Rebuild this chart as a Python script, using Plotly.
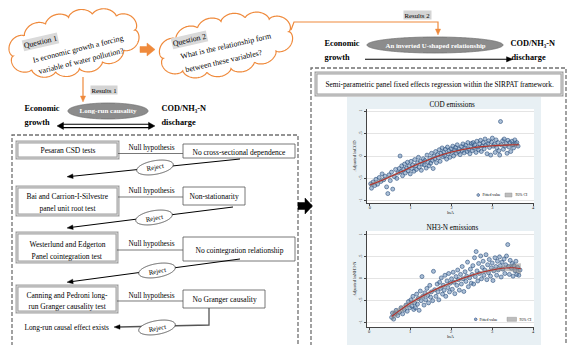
import numpy as np
import plotly.graph_objects as go

# ---------------- data ----------------
cod_x = [0.02,0.04,0.08,0.12,0.15,0.19,0.23,0.27,0.30,0.34,0.37,0.41,0.44,0.47,0.50,0.53,0.56,0.60,0.63,0.66,0.69,0.72,
         0.74,
         0.76,0.78,0.80,0.83,0.85,0.87,0.90,0.92,0.94,0.96,0.99,1.01,1.03,1.05,1.08,1.10,1.12,1.14,1.17,1.19,1.21,1.24,1.26,1.28,1.31,1.33,1.35,1.38,1.40,1.42,1.45,1.47,1.49,
         1.51,1.53,1.55,1.57,1.59,1.61,1.63,1.66,1.68,1.70,1.72,1.74,1.77,1.79,1.81,1.83,1.85,1.88,1.90,1.92,1.94,1.96,1.99,2.01,2.03,2.05,2.08,2.10,2.12,2.14,2.17,2.19,2.21,2.24,2.26,2.28,2.31,2.33,2.35,2.38,2.40,2.42,2.45,2.47,2.49,
         2.51,2.53,2.55,2.57,2.60,2.62,2.64,2.66,2.69,2.71,2.73,2.75,2.78,2.80,2.82,2.84,2.87,2.89,2.91,2.93,2.96,2.98,3.00,3.02,3.05,3.07,3.09,3.11,3.14,3.16,3.18,3.20,3.22,3.25,3.27,3.29,3.31,3.34,3.36,3.38,3.41,3.43,3.45,3.48,3.50,3.52,3.55,3.57,3.60,3.63]
cod_y = [-0.62,-0.72,-0.58,-0.66,-0.52,-0.63,-0.48,-0.57,-0.40,-0.53,-0.45,-0.69,-0.84,-0.42,-0.55,-0.36,-0.74,-0.46,-0.30,-0.50,-0.38,-0.28,
         0.00,
         -0.35,-0.22,-0.44,-0.30,-0.18,-0.38,-0.27,-0.14,-0.33,-0.22,-0.40,-0.12,-0.28,-0.20,-0.34,-0.08,-0.22,-0.30,-0.15,-0.03,-0.25,-0.12,-0.32,-0.18,-0.06,-0.20,-0.10,-0.27,0.02,-0.14,-0.22,-0.05,-0.16,
         0.06,-0.10,-0.28,0.00,-0.06,0.10,-0.15,0.03,-0.04,0.14,-0.12,0.06,0.18,-0.02,0.09,0.01,0.15,-0.07,0.20,0.05,0.12,-0.03,0.16,0.08,0.22,0.00,0.13,0.19,0.06,0.25,0.10,0.16,0.03,0.21,0.12,0.27,0.07,0.18,0.24,0.10,0.30,0.15,0.05,0.22,0.28,
         0.12,0.30,0.18,0.25,0.08,0.33,0.20,0.14,0.27,0.35,0.10,0.22,0.30,0.16,0.38,0.24,0.05,0.28,0.34,0.19,0.02,0.31,0.40,0.22,0.26,0.08,0.36,0.18,0.30,0.12,0.02,0.77,0.25,0.34,0.15,0.38,0.22,0.28,0.06,0.35,0.20,0.30,0.10,0.33,0.25,0.18,0.36,0.27,0.30,0.22]
cod_fit_x = [0.0,0.25,0.5,0.75,1.0,1.25,1.5,1.75,2.0,2.25,2.5,2.75,3.0,3.25,3.5,3.65]
cod_fit_y = [-0.65,-0.56,-0.46,-0.36,-0.25,-0.15,-0.06,0.02,0.09,0.14,0.18,0.21,0.23,0.24,0.25,0.25]
cod_ci = [0.04,0.03,0.025,0.02,0.02,0.015,0.015,0.015,0.015,0.015,0.015,0.015,0.02,0.02,0.025,0.03]

nh3_x = [0.55,0.57,0.60,0.63,0.66,0.70,0.74,0.78,0.82,0.86,0.90,0.93,0.96,0.99,
         1.02,1.04,1.07,1.09,1.11,1.13,1.16,1.18,1.20,1.22,1.25,1.27,1.29,1.31,1.34,1.36,1.38,1.41,1.43,1.45,1.48,1.50,1.52,1.55,1.57,1.60,1.63,1.66,
         1.68,1.70,1.72,1.74,1.76,1.79,1.81,1.83,1.85,1.87,1.90,1.92,1.94,1.96,1.98,2.01,2.03,2.05,2.07,2.09,2.12,2.14,2.16,2.18,2.20,2.23,2.25,2.27,2.29,2.31,2.34,2.36,2.38,2.40,2.42,2.45,2.47,2.49,
         2.51,2.53,2.55,2.57,2.59,2.61,2.63,2.65,2.67,2.69,2.72,2.74,2.76,2.78,2.80,2.82,2.85,2.87,2.89,2.91,2.93,2.96,2.98,3.00,3.02,3.04,3.07,3.09,3.11,3.13,3.15,3.18,3.20,3.22,3.24,3.26,3.29,3.31,3.33,3.35,3.38,3.40,3.42,3.44,3.47,3.49,3.51,3.53,3.56,3.58,3.60,3.62,3.65,3.68]
nh3_y = [-0.88,-0.78,-0.92,-0.80,-0.72,-0.84,-0.76,-0.66,-0.80,-0.70,-0.60,-0.74,-0.52,-0.66,
         -0.48,-0.62,-0.40,-0.70,-0.55,-0.66,-0.35,-0.58,-0.45,-0.72,-0.28,-0.50,0.05,-0.40,-0.60,-0.32,-0.48,-0.22,-0.38,-0.55,-0.15,-0.42,-0.30,-0.50,0.17,-0.25,-0.40,-0.12,
         -0.30,-0.48,-0.08,-0.22,0.02,-0.35,-0.15,-0.26,0.08,-0.40,-0.05,-0.20,0.12,-0.30,-0.10,0.00,-0.24,0.15,-0.08,-0.34,0.05,-0.15,0.20,-0.02,-0.26,0.10,-0.12,0.28,0.00,-0.29,0.16,-0.06,0.06,0.38,-0.18,0.02,0.22,-0.10,
         0.10,0.30,-0.12,0.48,0.05,0.62,0.18,-0.05,0.35,0.12,0.52,0.00,0.26,0.40,0.08,0.20,0.55,-0.02,0.32,0.14,0.44,0.06,0.25,0.36,-0.04,0.18,0.48,0.28,0.08,0.40,0.20,0.50,0.30,0.04,0.38,0.22,0.45,0.12,0.32,0.52,0.78,0.28,0.10,0.42,0.24,0.35,0.06,0.30,0.18,0.40,0.10,0.26,0.08,0.20]
nh3_fit_x = [0.55,0.75,1.0,1.25,1.5,1.75,2.0,2.25,2.5,2.75,3.0,3.25,3.5,3.7]
nh3_fit_y = [-0.86,-0.72,-0.56,-0.42,-0.30,-0.19,-0.09,0.00,0.08,0.15,0.20,0.24,0.25,0.23]
nh3_ci = [0.10,0.07,0.05,0.04,0.03,0.03,0.03,0.03,0.03,0.03,0.04,0.05,0.08,0.12]

x_ticks = [0, 1, 2, 3, 4]
y_ticks = [-1, -0.5, 0, 0.5, 1]
y_ticktext = ["-1", "-.5", "0", ".5", "1"]

# ---------------- helpers ----------------
W, H = 570, 345
SERIF = "Liberation Serif, Times New Roman, DejaVu Serif, serif"
ORANGE = "#ef8a3c"

def px(x):
    return x / W

def py(y):
    return 1 - y / H

shapes = []
ann = []

def rect(x0, y0, x1, y1, lc="#555", lw=1.0, fill="white", dash=None):
    shapes.append(dict(type="rect", xref="paper", yref="paper", x0=px(x0), x1=px(x1),
                       y0=py(y1), y1=py(y0), line=dict(color=lc, width=lw, dash=dash),
                       fillcolor=fill, layer="below"))

def dbox(x0, y0, x1, y1):
    rect(x0, y0, x1, y1, "#a0a0a0", 3, "white")
    rect(x0, y0, x1, y1, "#e4e4e4", 0.8, "rgba(0,0,0,0)")

def poly(xs, ys, close=True):
    pts = [f"{px(a):.5f},{py(b):.5f}" for a, b in zip(xs, ys)]
    return "M " + " L ".join(pts) + (" Z" if close else "")

def path(xs, ys, lc, lw, fill="rgba(0,0,0,0)", close=True):
    shapes.append(dict(type="path", xref="paper", yref="paper", path=poly(xs, ys, close),
                       line=dict(color=lc, width=lw), fillcolor=fill, layer="below"))

def line(x0, y0, x1, y1, lc="black", lw=1.0):
    path([x0, x1], [y0, y1], lc, lw, close=False)

def head(x0, y0, x1, y1, color="black", L=6.0, w=2.4):
    # filled triangular arrow head with its tip at (x1, y1), pointing away from (x0, y0)
    d = np.hypot(x1 - x0, y1 - y0)
    ux, uy = (x1 - x0) / d, (y1 - y0) / d
    bx, by = x1 - ux * L, y1 - uy * L
    path([x1, bx - uy * w, bx + uy * w], [y1, by + ux * w, by - ux * w], color, 0.4, color)

def blob(cx, cy, a, b, ang, nb=0, h=0.0, n=480):
    t = np.linspace(0, 2 * np.pi, n, endpoint=False)
    ex, ey = a * np.cos(t), b * np.sin(t)
    nx, ny = b * np.cos(t), a * np.sin(t)
    nn = np.hypot(nx, ny)
    if nb:
        seglen = np.hypot(np.diff(np.r_[ex, ex[0]]), np.diff(np.r_[ey, ey[0]]))
        s = np.r_[0, np.cumsum(seglen)[:-1]] / seglen.sum()
        bump = h * np.abs(np.sin(np.pi * nb * s)) ** 0.6
    else:
        bump = 0.0
    x = ex + nx / nn * bump
    y = ey + ny / nn * bump
    th = np.radians(ang)
    xr = cx + x * np.cos(th) - y * np.sin(th)
    yr = cy + x * np.sin(th) + y * np.cos(th)
    return list(xr), list(yr)

def txt(x, y, s, size=7.5, color="black", bold=False, angle=0, bg=None, xanchor="center"):
    ann.append(dict(x=px(x), y=py(y), xref="paper", yref="paper",
                    text=(f"<b>{s}</b>" if bold else s), showarrow=False,
                    font=dict(family=SERIF, size=size, color=color), textangle=angle,
                    bgcolor=bg, xanchor=xanchor, yanchor="middle", borderpad=0.5))

# ---------------- frames & panels ----------------
rect(12, 135, 298, 352, "#707070", 1.3, "rgba(0,0,0,0)", "4px,2px")
rect(311, 68, 566, 352, "#707070", 1.3, "rgba(0,0,0,0)", "4px,2px")
rect(347, 97, 541, 352, "rgba(0,0,0,0)", 0, "#e8f0f4")
rect(367, 109, 534, 203, "rgba(0,0,0,0)", 0, "white")
rect(367, 231, 534, 327, "rgba(0,0,0,0)", 0, "white")

# ---------------- clouds ----------------
cx, cy = blob(74, 43, 62, 26, -12, 12, 6)
path(cx, cy, ORANGE, 1.2, "white")
cx, cy = blob(226, 45, 64, 24, -12, 12, 6)
path(cx, cy, ORANGE, 1.2, "white")

# orange block arrow between clouds
path([140, 147, 147, 155, 147, 147, 140], [46.5, 46.5, 43, 49.5, 56, 52.5, 52.5], ORANGE, 0.5, ORANGE)

# orange connectors
path([291, 294, 438, 438], [30, 22, 22, 30], ORANGE, 1.2, close=False)
head(438, 26, 438, 35, ORANGE, 6, 2.6)
line(83, 77, 83, 97, ORANGE, 1.2)
head(83, 92, 83, 102, ORANGE, 6, 2.6)

# ---------------- causal relationship rows ----------------
ex, ey = blob(108, 111, 40, 8, 0)
path(ex, ey, "#707070", 0.8, "#8c8c8c")
ex, ey = blob(435, 45, 68, 8, 0)
path(ex, ey, "#707070", 0.8, "#8c8c8c")

line(63, 124.2, 149, 124.2, "black", 1.1)
line(63, 127.6, 149, 127.6, "black", 1.1)
head(68, 125.9, 57, 125.9, "black", 6.5, 3.6)
head(144, 125.9, 155, 125.9, "black", 6.5, 3.6)
line(365, 59.3, 507, 59.3, "black", 1.1)
head(500, 59.3, 513, 59.3, "black", 6.5, 2.6)

# ---------------- test boxes ----------------
dbox(17, 142, 118, 158)
dbox(17, 187, 118, 215)
dbox(17, 233, 117, 262)
dbox(17, 286, 117, 312)
rect(183, 144, 295, 158, "#555", 0.8)
rect(183, 187, 245, 205, "#555", 0.8)
rect(183, 237, 295, 261, "#555", 0.8)
rect(183, 290, 265, 308, "#555", 0.8)
line(118, 153.5, 183, 153.5, "#555", 0.8)
line(118, 197, 183, 197, "#555", 0.8)
line(117, 250, 183, 250, "#555", 0.8)
line(117, 301, 183, 301, "#555", 0.8)

# reject connectors
line(240, 159, 71, 176.4, "black", 1.0)
head(76, 175.9, 67, 176.8, "black", 6, 2.3)
line(233, 207, 71, 227.4, "black", 1.0)
head(76, 226.8, 67, 228, "black", 6, 2.3)
line(240, 259, 71, 281.7, "black", 1.0)
head(76, 281, 67, 282.2, "black", 6, 2.3)
path([209, 209, 119], [308, 325, 327], "#555", 1.3, close=False)
head(124, 326.9, 114, 327.1, "black", 6, 2.3)

for (rx, ry) in [(155, 167.5), (154, 217.5), (157, 270.5), (157, 327.5)]:
    ex, ey = blob(rx, ry, 18.5, 6.8, -10)
    path(ex, ey, "#333", 0.8, "white")

# semi-parametric box
dbox(316, 73, 562, 95)

# big black arrow
path([298, 305, 305, 312.5, 305, 305, 298], [202.5, 202.5, 198, 206, 214, 209.5, 209.5], "black", 0.5, "black")

# ---------------- texts ----------------
txt(40, 42, "Question 1", 7.8, angle=-13, bg="#dadada")
txt(78, 48.5, "Is economic growth a forcing", 7.9, angle=-14)
txt(81, 61.5, "variable of water pollution?", 7.9, angle=-14)
txt(189, 40, "Question 2", 7.8, angle=-13, bg="#dadada")
txt(226, 46, "What is the relationship form", 7.9, angle=-13)
txt(224, 61, "between these variables?", 7.9, angle=-13)

txt(103.5, 90.5, "Results 1", 6.8, bg="#d4d4d4")
txt(417, 15, "Results 2", 6.8, bg="#d4d4d4")

txt(23, 108, "Economic", 8.3, bold=True, xanchor="left")
txt(23, 122, "growth", 8.3, bold=True, xanchor="left")
txt(160, 108, "COD/NH\u2083-N", 8.3, bold=True, xanchor="left")
txt(160, 122, "discharge", 8.3, bold=True, xanchor="left")
txt(108, 111, "Long-run causality", 7, color="white", bold=True)

txt(323, 43, "Economic", 8.3, bold=True, xanchor="left")
txt(323, 57, "growth", 8.3, bold=True, xanchor="left")
txt(509, 43, "COD/NH\u2083-N", 8.3, bold=True, xanchor="left")
txt(510, 57, "discharge", 8.3, bold=True, xanchor="left")
txt(435, 45, "An inverted U-shaped relationship", 6.8, color="white", bold=True)

txt(439, 84, "Semi-parametric panel fixed effects regression within the SIRPAT framework.", 7.3)

txt(67.5, 150, "Pesaran CSD tests", 7.5)
txt(67.5, 196, "Bai and Carrion-I-Silvestre", 7.5)
txt(67.5, 207.5, "panel unit root test", 7.5)
txt(67, 244, "Westerlund and Edgerton", 7.5)
txt(67, 256, "Panel cointegration test", 7.5)
txt(67, 295, "Canning and Pedroni long-", 7.5)
txt(67, 306, "run Granger causality test", 7.5)
txt(239, 151.5, "No cross-sectional dependence", 7.5)
txt(214, 196, "Non-stationarity", 7.5)
txt(239, 249.5, "No cointegration relationship", 7.5)
txt(224, 299, "No Granger causality", 7.5)
for yy in [147, 190, 243, 295]:
    txt(151, yy, "Null hypothesis", 7.3)
for (rx, ry) in [(155, 167.5), (154, 217.5), (157, 270.5), (157, 327.5)]:
    txt(rx, ry, "Reject", 6.8, angle=-10)
txt(67, 327, "Long-run causal effect exists", 7.3)

# chart titles
txt(452, 104.5, "COD emissions", 7.2)
txt(452, 227, "NH3-N emissions", 7.2)

# in-plot legends
for (lx, ly, rx0, rx1) in [(478.3, 195, 505, 512), (475.7, 319.3, 507, 516.5)]:
    ex, ey = blob(lx, ly, 1.4, 1.4, 0)
    path(ex, ey, "#2c4f7c", 0.5, "rgba(90,130,175,0.7)")
    txt(lx + 2.5, ly, "Fitted value", 3.8, xanchor="left")
    rect(rx0, ly - 2, rx1, ly + 2, "#888", 0.4, "#bdbdbd")
    txt(rx1 + 1.5, ly, "95% CI", 3.8, xanchor="left")

# ---------------- figure ----------------
fig = go.Figure()

def add_chart(xs, ys, fx, fy, ci, xa, ya):
    lo = [a - c for a, c in zip(fy, ci)]
    hi = [a + c for a, c in zip(fy, ci)]
    fig.add_trace(go.Scatter(x=xs, y=ys, mode="markers", xaxis=xa, yaxis=ya,
                             marker=dict(size=4, color="rgba(90,130,175,0.5)",
                                         line=dict(color="#2c4f7c", width=0.6)),
                             hoverinfo="skip", showlegend=False))
    fig.add_trace(go.Scatter(x=fx, y=lo, mode="lines", xaxis=xa, yaxis=ya,
                             line=dict(color="rgba(130,130,130,0.6)", width=0.3),
                             hoverinfo="skip", showlegend=False))
    fig.add_trace(go.Scatter(x=fx, y=hi, mode="lines", xaxis=xa, yaxis=ya, fill="tonexty",
                             fillcolor="rgba(140,140,140,0.55)",
                             line=dict(color="rgba(130,130,130,0.6)", width=0.3),
                             hoverinfo="skip", showlegend=False))
    fig.add_trace(go.Scatter(x=fx, y=fy, mode="lines", xaxis=xa, yaxis=ya,
                             line=dict(color="#b5302a", width=1.1, shape="spline"),
                             hoverinfo="skip", showlegend=False))

add_chart(cod_x, cod_y, cod_fit_x, cod_fit_y, cod_ci, "x", "y")
add_chart(nh3_x, nh3_y, nh3_fit_x, nh3_fit_y, nh3_ci, "x2", "y2")

xcommon = dict(tickvals=x_ticks, ticks="outside", ticklen=2, tickwidth=0.6, tickcolor="#444",
               showline=True, linecolor="#444", linewidth=0.6, showgrid=False, zeroline=False,
               ticklabelstandoff=-2,
               tickfont=dict(family=SERIF, size=4.5, color="#222"), fixedrange=True)
ycommon = dict(tickvals=y_ticks, ticktext=y_ticktext, tickangle=-90, ticks="outside", ticklen=2,
               tickwidth=0.6, tickcolor="#444", showline=True, linecolor="#444", linewidth=0.6,
               showgrid=True, gridcolor="#e4e4e4", gridwidth=0.6, zeroline=False,
               tickfont=dict(family=SERIF, size=4.5, color="#222"), fixedrange=True)
xtitle = dict(text="lnA", font=dict(family=SERIF, size=4.8, color="#222"), standoff=1)

fig.update_layout(
    width=W, height=H, margin=dict(l=0, r=0, t=0, b=0),
    paper_bgcolor="white", plot_bgcolor="rgba(0,0,0,0)",
    xaxis=dict(domain=[px(367), px(534)], range=[-0.07, 4.02], anchor="y", title=xtitle, **xcommon),
    yaxis=dict(domain=[py(203), py(109)], range=[-1.05, 1.05], anchor="x",
               title=dict(text="Adjusted lnCOD", font=dict(family=SERIF, size=4.6, color="#222"), standoff=1),
               **ycommon),
    xaxis2=dict(domain=[px(367), px(534)], range=[-0.05, 4.02], anchor="y2", title=xtitle, **xcommon),
    yaxis2=dict(domain=[py(327), py(231)], range=[-1.1, 1.09], anchor="x2",
                title=dict(text="Adjusted lnNH3-N", font=dict(family=SERIF, size=4.6, color="#222"), standoff=1),
                **ycommon),
    shapes=shapes, annotations=ann, showlegend=False,
    font=dict(family=SERIF),
)

fig.write_html("out.html", config={"displayModeBar": False},
               post_script="document.body.style.margin='0';document.body.style.overflow='hidden';")
